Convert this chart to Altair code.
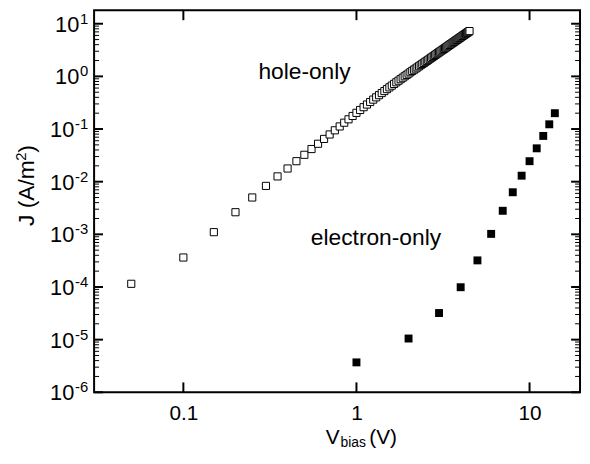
import altair as alt
import pandas as pd

# ---------------- data ----------------
hole_v = [0.05, 0.10, 0.15, 0.20, 0.25, 0.30, 0.35, 0.40, 0.45, 0.50,
          0.55, 0.60, 0.65, 0.70, 0.75, 0.80, 0.85, 0.90, 0.95, 1.00,
          1.05, 1.10, 1.15, 1.20, 1.25, 1.30, 1.35, 1.40, 1.45, 1.50,
          1.55, 1.60, 1.65, 1.70, 1.75, 1.80, 1.85, 1.90, 1.95, 2.00,
          2.05, 2.10, 2.15, 2.20, 2.25, 2.30, 2.35, 2.40, 2.45, 2.50,
          2.55, 2.60, 2.65, 2.70, 2.75, 2.80, 2.85, 2.90, 2.95, 3.00,
          3.05, 3.10, 3.15, 3.20, 3.25, 3.30, 3.35, 3.40, 3.45, 3.50,
          3.55, 3.60, 3.65, 3.70, 3.75, 3.80, 3.85, 3.90, 3.95, 4.00,
          4.05, 4.10, 4.15, 4.20, 4.25, 4.30, 4.35, 4.40, 4.45, 4.50]
hole_j = [1.15e-4, 3.63e-4, 1.10e-3, 2.63e-3, 5.01e-3, 8.32e-3, 1.26e-2, 1.78e-2, 2.45e-2, 3.24e-2,
          4.17e-2, 5.25e-2, 6.49e-2, 7.89e-2, 9.46e-2, 0.112, 0.132, 0.153, 0.177, 0.203,
          0.230, 0.260, 0.292, 0.326, 0.362, 0.400, 0.440, 0.482, 0.526, 0.573,
          0.619, 0.668, 0.719, 0.773, 0.828, 0.885, 0.944, 1.005, 1.067, 1.13,
          1.20, 1.27, 1.34, 1.41, 1.48, 1.56, 1.64, 1.72, 1.80, 1.89,
          1.97, 2.06, 2.16, 2.25, 2.35, 2.45, 2.55, 2.65, 2.76, 2.87,
          2.98, 3.09, 3.20, 3.32, 3.44, 3.56, 3.69, 3.82, 3.95, 4.08,
          4.21, 4.35, 4.49, 4.63, 4.78, 4.92, 5.07, 5.23, 5.38, 5.54,
          5.70, 5.86, 6.03, 6.19, 6.36, 6.54, 6.71, 6.89, 7.07, 7.25]

elec_v = [1, 2, 3, 4, 5, 6, 7, 8, 9, 10, 11, 12, 13, 14]
elec_j = [3.7e-6, 1.05e-5, 3.2e-5, 9.9e-5, 3.2e-4, 1.02e-3, 2.8e-3,
          6.3e-3, 1.3e-2, 2.45e-2, 4.3e-2, 7.4e-2, 0.123, 0.20]

x_tick_values = [0.1, 1, 10]
y_tick_exponents = [1, 0, -1, -2, -3, -4, -5, -6]
y_minor_mult = [2, 3, 4, 5, 6, 7, 8, 9]

FONT = "Liberation Sans"
W, H = 491, 386

hole_df = pd.DataFrame({"V": hole_v, "J": hole_j})
elec_df = pd.DataFrame({"V": elec_v, "J": elec_j})
xt_df = pd.DataFrame({"v": x_tick_values})
ymaj_df = pd.DataFrame({"v": [10.0 ** e for e in y_tick_exponents],
                        "n": y_tick_exponents,
                        "e": [str(e) for e in y_tick_exponents]})
ymin_vals = [m * 10.0 ** e for e in y_tick_exponents for m in y_minor_mult if m * 10.0 ** e <= 18]
ymin_df = pd.DataFrame({"v": ymin_vals})

xs = alt.Scale(type="log", domain=[0.0305, 19.57], nice=False)
ys = alt.Scale(type="log", domain=[1e-6, 18], nice=False)
xaxis = alt.Axis(values=x_tick_values, format="~g", ticks=False, domain=False, grid=False,
                 labelFont=FONT, labelFontSize=21, labelColor="black", labelPadding=11,
                 title=None, labelFlush=False)

hole = alt.Chart(hole_df).mark_square(size=52, fill="white", stroke="black",
                                      strokeWidth=1, opacity=1, fillOpacity=1).encode(
    x=alt.X("V:Q", scale=xs, axis=xaxis),
    y=alt.Y("J:Q", scale=ys, axis=None),
)
elec = alt.Chart(elec_df).mark_square(size=64, color="black", opacity=1).encode(
    x=alt.X("V:Q", scale=xs, axis=xaxis),
    y=alt.Y("J:Q", scale=ys, axis=None),
)

def yrule(df, x1, x2, sw):
    return alt.Chart(df).mark_rule(color="black", strokeWidth=sw).encode(
        y=alt.Y("v:Q", scale=ys, axis=None), x=alt.value(x1), x2=alt.value(x2))

def xrule(y1, y2):
    return alt.Chart(xt_df).mark_rule(color="black", strokeWidth=2).encode(
        x=alt.X("v:Q", scale=xs, axis=xaxis), y=alt.value(y1), y2=alt.value(y2))

ticks = [
    yrule(ymaj_df, 0, 9, 2), yrule(ymaj_df, W, W - 9, 2),
    yrule(ymin_df, 0, 5, 1), yrule(ymin_df, W, W - 5, 1),
    xrule(H, H - 10), xrule(0, 10),
]

ten_pos = alt.Chart(ymaj_df).transform_filter("datum.n >= 0").mark_text(
    font=FONT, fontSize=22, align="right", baseline="middle", color="black", dy=1).encode(
    y=alt.Y("v:Q", scale=ys, axis=None), x=alt.value(-15), text=alt.value("10"))
ten_neg = alt.Chart(ymaj_df).transform_filter("datum.n < 0").mark_text(
    font=FONT, fontSize=22, align="right", baseline="middle", color="black", dy=1).encode(
    y=alt.Y("v:Q", scale=ys, axis=None), x=alt.value(-20), text=alt.value("10"))
expo = alt.Chart(ymaj_df).mark_text(
    font=FONT, fontSize=15, align="right", baseline="middle", color="black", dy=-5).encode(
    y=alt.Y("v:Q", scale=ys, axis=None), x=alt.value(-6), text="e:N")

def label(txt, x, y, size, align="left", baseline="alphabetic", angle=0):
    return alt.Chart(pd.DataFrame({"t": [txt]})).mark_text(
        font=FONT, fontSize=size, align=align, baseline=baseline, angle=angle, color="black").encode(
        x=alt.value(x), y=alt.value(y), text="t:N")

texts = [
    label("hole-only", 166, 69, 23),
    label("electron-only", 219, 237, 23),
    # y title: J (A/m^2), rotated
    label("J (A/m", -68, 218, 23, baseline="middle", angle=270),
    label("2", -74, 152, 15, baseline="middle", angle=270),
    label(")", -68, 144, 23, baseline="middle", angle=270),
    # x title: V_bias (V)
    label("V", 234, 438, 21),
    label("bias", 249, 441, 14),
    label("(V)", 278, 438, 21),
]

chart = alt.layer(hole, elec, *ticks, ten_pos, ten_neg, expo, *texts).properties(
    width=W, height=H,
    autosize=alt.AutoSizeParams(type="none"),
    padding={"left": 87, "top": 0, "right": 2, "bottom": 56},
).configure_view(stroke="black", strokeWidth=2)

chart.save("out.html", embed_options={"renderer": "svg", "actions": False})
